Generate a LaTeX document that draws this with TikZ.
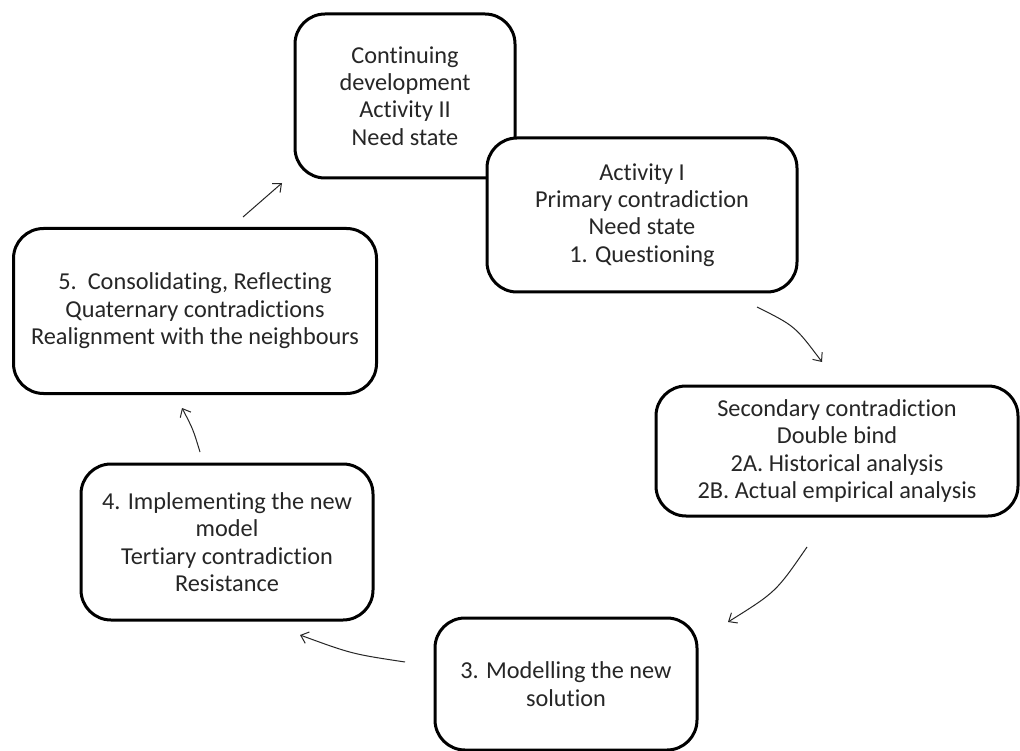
\documentclass[tikz,border=0pt]{standalone}
\usepackage{fontspec}
\setmainfont{Carlito}[Ligatures=NoCommon]
\usetikzlibrary{arrows.meta}
\tikzset{
  stagebox/.style={draw=black, line width=3pt, rounded corners=30pt, fill=white,
    align=center, inner sep=0pt, font=\fontsize{24.3}{27.4}\selectfont, text=black!85},
  flow/.style={draw=black!85, line width=1pt, -{Straight Barb[length=7pt,width=12pt]}}
}
\begin{document}
\begin{tikzpicture}[x=1pt,y=-1pt]
\useasboundingbox (0,0) rectangle (1020,751);
\fill[white] (0,0) rectangle (1020,751);
% boxes
\node[stagebox, minimum width=220pt, minimum height=164pt] (contdev) at (405,96)
  {Continuing\\development\\Activity II\\Need state};
\node[stagebox, minimum width=310pt, minimum height=154pt] (act1) at (642,215)
  {Activity I\\Primary contradiction\\Need state\\1. Questioning};
\node[stagebox, minimum width=362pt, minimum height=130pt] (second) at (837,451)
  {Secondary contradiction\\Double bind\\2A. Historical analysis\\2B. Actual empirical analysis};
\node[stagebox, minimum width=262pt, minimum height=132pt] (model) at (566,684)
  {3. Modelling the new\\solution};
\node[stagebox, minimum width=292pt, minimum height=156pt] (implement) at (227,542)
  {4. Implementing the new\\model\\Tertiary contradiction\\Resistance};
\node[stagebox, minimum width=363pt, minimum height=165pt] (consol) at (195,311)
  {5.\ \ Consolidating, Reflecting\\Quaternary contradictions\\Realignment with the neighbours};
% arrow end points
\coordinate (s1) at (757,307); \coordinate (e1) at (822,362);
\coordinate (s2) at (807,547); \coordinate (e2) at (728,622);
\coordinate (s3) at (405,662); \coordinate (e3) at (300,635);
\coordinate (s4) at (200,452); \coordinate (e4) at (182,408);
\coordinate (s5) at (243,217); \coordinate (e5) at (282,183);
% connectors
\draw[flow] (s1) .. controls (795,326) .. (e1);
\draw[flow] (s2) .. controls (776,592) .. (e2);
\draw[flow] (s3) .. controls (352,654) .. (e3);
\draw[flow] (s4) .. controls (193,429) .. (e4);
\draw[flow] (s5) -- (e5);
\end{tikzpicture}
\end{document}
